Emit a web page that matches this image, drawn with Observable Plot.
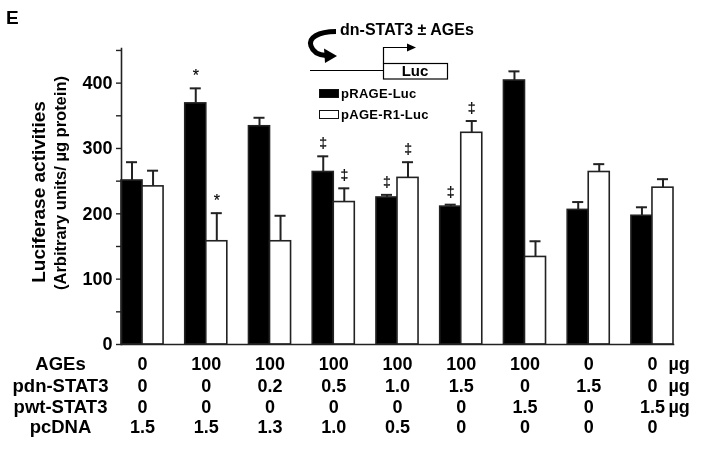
<!DOCTYPE html>
<html>
<head>
<meta charset="utf-8">
<script src="https://cdn.jsdelivr.net/npm/d3@7"></script>
<script src="https://cdn.jsdelivr.net/npm/@observablehq/plot@0.6"></script>
<style>
  html, body { margin: 0; padding: 0; background: #fff; }
  #chart svg { display: block; }
  #chart svg text { -webkit-font-smoothing: antialiased; }
  #chart { will-change: transform; }
</style>
</head>
<body>
<div id="chart"></div>
<script>
// ---------- data ----------
const columns = ["c1", "c2", "c3", "c4", "c5", "c6", "c7", "c8", "c9"];
const seriesNames = ["pRAGE-Luc", "pAGE-R1-Luc"];
const pRAGE = [251, 369, 334, 264, 225, 211, 404, 206, 197];
const pRAGEErr = [28, 23, 13, 24, 4, 3, 14, 12, 13];
const pRAGESig = ["", "*", "", "‡", "‡", "‡", "", "", ""];
const pAGER1 = [242, 158, 158, 218, 255, 324, 134, 264, 240];
const pAGER1Err = [24, 43, 39, 21, 24, 18, 24, 12, 13];
const pAGER1Sig = ["", "*", "", "‡", "‡", "‡", "", "", ""];
const yTicks = [0, 50, 100, 150, 200, 250, 300, 350, 400, 450];
const yTickLabels = ["0", "", "100", "", "200", "", "300", "", "400", ""];
const yLabelLines = ["Luciferase activities", "(Arbitrary units/ µg protein)"];
const rowLabels = ["AGEs", "pdn-STAT3", "pwt-STAT3", "pcDNA"];
const agesRow = ["0", "100", "100", "100", "100", "100", "100", "0", "0"];
const pdnRow = ["0", "0", "0.2", "0.5", "1.0", "1.5", "0", "1.5", "0"];
const pwtRow = ["0", "0", "0", "0", "0", "0", "1.5", "0", "1.5"];
const pcdnaRow = ["1.5", "1.5", "1.3", "1.0", "0.5", "0", "0", "0", "0"];
const rowUnits = ["µg", "µg", "µg", ""];
const panelLetter = "E";
const diagramTitle = "dn-STAT3 ± AGEs";
const diagramBox = "Luc";

// ---------- build table ----------
const data = columns.flatMap((c, i) => [
  {col: c, series: seriesNames[0], value: pRAGE[i], err: pRAGEErr[i], sig: pRAGESig[i]},
  {col: c, series: seriesNames[1], value: pAGER1[i], err: pAGER1Err[i], sig: pAGER1Sig[i]}
]);
const tableRows = [agesRow, pdnRow, pwtRow, pcdnaRow];

const FONT = "'Liberation Sans', Arial, Helvetica, sans-serif";
const rowDy = [25, 47, 68, 88];

const tableMarks = tableRows.flatMap((row, r) => [
  Plot.text(columns, {fx: d => d, text: (d, i) => row[i], frameAnchor: "bottom", dy: rowDy[r],
    fontSize: 18, fontWeight: "bold", fill: "black"}),
  Plot.text([rowLabels[r]], {facet: "super", text: d => d, frameAnchor: "bottom-left", dx: -61, dy: rowDy[r],
    textAnchor: "middle", fontSize: 18.5, fontWeight: "bold", fill: "black"}),
  Plot.text(rowUnits[r] ? [columns[columns.length - 1]] : [], {fx: d => d, text: () => rowUnits[r],
    frameAnchor: "bottom", dx: 16, dy: rowDy[r], textAnchor: "start", fontSize: 18, fontWeight: "bold", fill: "black"})
]);

const chart = Plot.plot({
  width: 702,
  height: 454,
  marginLeft: 121,
  marginRight: 29,
  marginTop: 48,
  marginBottom: 110,
  style: {fontFamily: FONT, background: "white", color: "black", overflow: "visible"},
  fx: {domain: columns, paddingInner: 0.34, paddingOuter: 0, round: false, axis: null, label: null},
  x: {domain: seriesNames, padding: 0, round: false, axis: null, label: null},
  y: {domain: [0, 453], axis: null, label: null},
  color: {domain: seriesNames, range: ["black", "white"]},
  marks: [
    Plot.barY(data, {fx: "col", x: "series", y: "value", fill: "series", stroke: "#222", strokeWidth: 1.6}),
    Plot.ruleX(data, {fx: "col", x: "series", y1: "value", y2: d => d.value + d.err, stroke: "#222", strokeWidth: 2}),
    Plot.tickY(data, {fx: "col", x: "series", y: d => d.value + d.err, stroke: "#222", strokeWidth: 2, insetLeft: 5, insetRight: 5}),
    Plot.text(data.filter(d => d.sig === "*"), {fx: "col", x: "series", y: d => d.value + d.err, text: "sig",
      lineAnchor: "bottom", dy: -7, fontSize: 16, fill: "black", stroke: "black", strokeWidth: 0.2}),
    Plot.text(data.filter(d => d.sig === "‡"), {fx: "col", x: "series", y: d => d.value + d.err, text: "sig",
      lineAnchor: "bottom", dy: -8, fontSize: 14, fill: "black", stroke: "black", strokeWidth: 0.2}),
    Plot.axisY({ticks: yTicks, tickFormat: (d) => yTickLabels[yTicks.indexOf(d)], tickSize: 5, tickPadding: 4,
      fontSize: 18, fontWeight: "bold", fill: "black", stroke: "#222", strokeWidth: 1.4}),
    Plot.frame({anchor: "left", facet: "super", stroke: "#222", strokeWidth: 1.6}),
    Plot.frame({anchor: "bottom", facet: "super", stroke: "#222", strokeWidth: 1.6}),
    ...tableMarks
  ]
});

document.getElementById("chart").appendChild(chart);

// ---------- decorations: panel letter, y label, legend, promoter diagram ----------
const svg = d3.select(chart.tagName.toLowerCase() === "svg" ? chart : chart.querySelector("svg"));
const deco = svg.append("g").attr("font-family", FONT).attr("fill", "black").attr("text-anchor", "start");

deco.append("text").attr("x", 6).attr("y", 24).attr("font-size", 19).attr("font-weight", "bold").text(panelLetter);

deco.append("text").attr("transform", "translate(45,192) rotate(-90)").attr("text-anchor", "middle")
  .attr("font-size", 19).attr("font-weight", "bold").text(yLabelLines[0]);
deco.append("text").attr("transform", "translate(66,183) rotate(-90)").attr("text-anchor", "middle")
  .attr("font-size", 16.5).attr("font-weight", "bold").text(yLabelLines[1]);

// legend
const color = chart.scale("color");
seriesNames.forEach((s, i) => {
  const y0 = i === 0 ? 89 : 110;
  deco.append("rect").attr("x", 319.5).attr("y", y0 + 0.5).attr("width", 19).attr("height", 8)
    .attr("fill", color.apply(s)).attr("stroke", "#111").attr("stroke-width", 1);
  deco.append("text").attr("x", 341).attr("y", y0 + 4).attr("dy", "0.36em").attr("font-size", 13)
    .attr("font-weight", "bold").attr("letter-spacing", 0.3).text(s);
});

// diagram
deco.append("text").attr("x", 340).attr("y", 35).attr("font-size", 16).attr("font-weight", "bold").text(diagramTitle);
deco.append("path").attr("d", "M336,31.5 C318,31.5 308,38 311,46 C313,52 318,55 326,55.5")
  .attr("fill", "none").attr("stroke", "black").attr("stroke-width", 5);
deco.append("path").attr("d", "M324,48.5 L337,56 L325,63 Z").attr("fill", "black");
deco.append("line").attr("x1", 310).attr("x2", 383).attr("y1", 70.5).attr("y2", 70.5).attr("stroke", "black").attr("stroke-width", 1.2);
deco.append("rect").attr("x", 383.5).attr("y", 63.5).attr("width", 64).attr("height", 15.5)
  .attr("fill", "white").attr("stroke", "black").attr("stroke-width", 1.2);
deco.append("text").attr("x", 415).attr("y", 71).attr("dy", "0.36em").attr("text-anchor", "middle")
  .attr("font-size", 15).attr("font-weight", "bold").text(diagramBox);
deco.append("path").attr("d", "M383.5,63.5 V47.5 H408").attr("fill", "none").attr("stroke", "black").attr("stroke-width", 1.2);
deco.append("path").attr("d", "M407,43.5 L416,47.5 L407,51.5 Z").attr("fill", "black");
</script>
</body>
</html>
